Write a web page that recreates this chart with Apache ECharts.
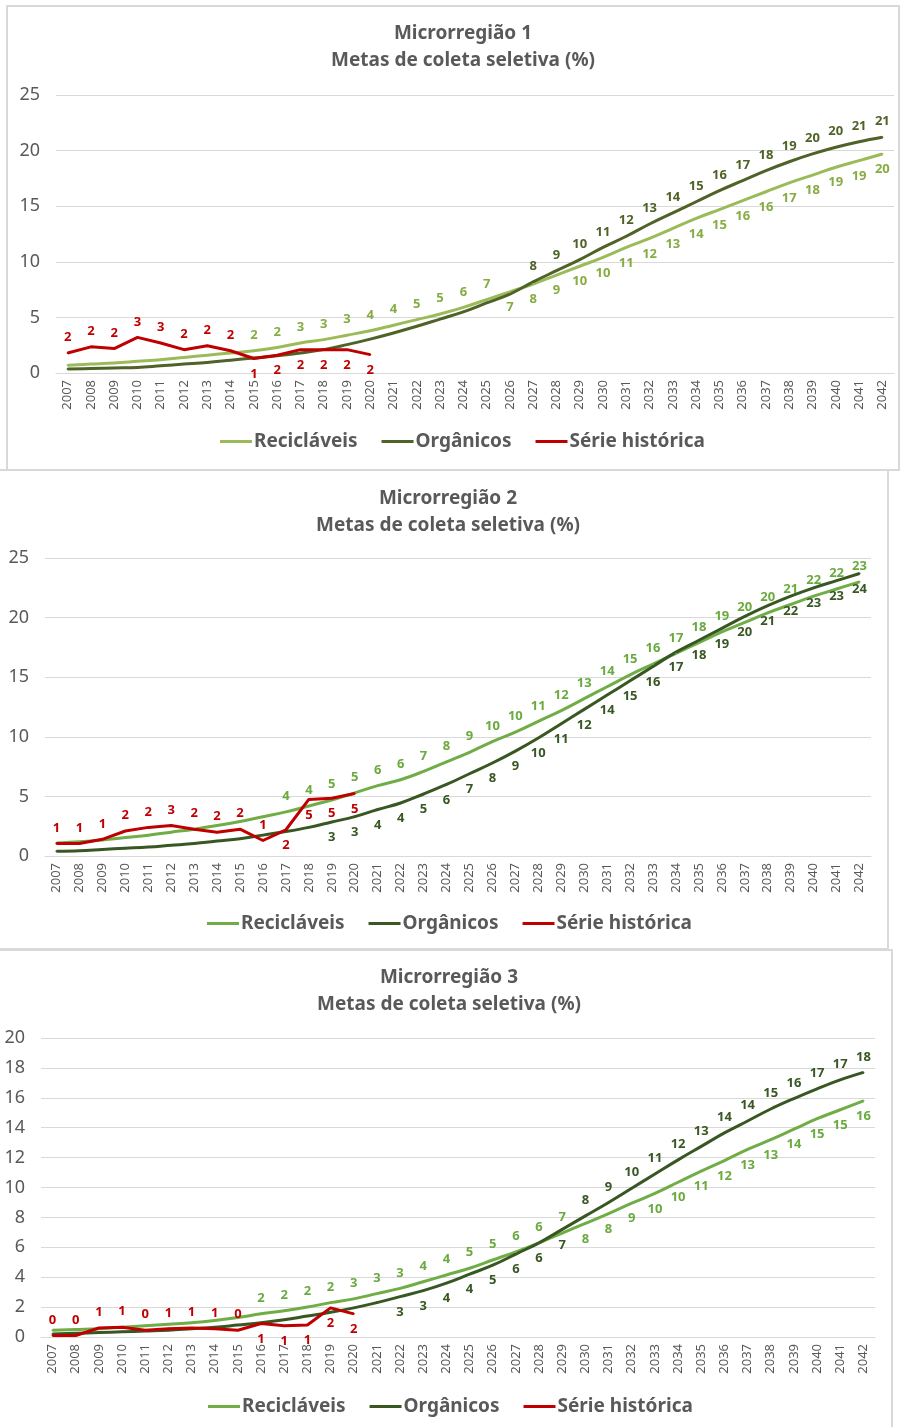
<!DOCTYPE html>
<html>
<head>
<meta charset="utf-8">
<script src="https://cdn.jsdelivr.net/npm/echarts@6/dist/echarts.min.js"></script>
<style>
  body { margin: 0; background: #fff; width: 901px; height: 1427px; position: relative; overflow: hidden; }
  .panel { position: absolute; border: 2px solid #d9d9d9; box-sizing: border-box; background: #fff; }
  .chart { width: 100%; height: 100%; }
</style>
</head>
<body>
<div class="panel" style="left:6px;top:5px;width:894px;height:466px"><div class="chart" id="c1"></div></div>
<div class="panel" style="left:-2px;top:469px;width:891px;height:481px"><div class="chart" id="c2"></div></div>
<div class="panel" style="left:-2px;top:949px;width:895px;height:482px"><div class="chart" id="c3"></div></div>
<script>
  // anos (eixo x)
  var years = ['2007', '2008', '2009', '2010', '2011', '2012', '2013', '2014', '2015', '2016', '2017', '2018',
    '2019', '2020', '2021', '2022', '2023', '2024', '2025', '2026', '2027', '2028', '2029', '2030',
    '2031', '2032', '2033', '2034', '2035', '2036', '2037', '2038', '2039', '2040', '2041', '2042'];

  // Microrregião 1
  var recic1 = [0.7, 0.8, 0.9, 1.05, 1.2, 1.4, 1.6, 1.8, 2.0, 2.3, 2.7, 3.0, 3.4, 3.8, 4.3, 4.8, 5.3, 5.9,
    6.6, 7.3, 8.0, 8.8, 9.6, 10.4, 11.3, 12.1, 13.0, 13.9, 14.7, 15.5, 16.3, 17.1, 17.8, 18.5, 19.1, 19.7];
  var organ1 = [0.35, 0.4, 0.45, 0.5, 0.65, 0.8, 0.95, 1.15, 1.35, 1.55, 1.8, 2.1, 2.55, 3.05, 3.6, 4.2, 4.85, 5.5,
    6.3, 7.1, 8.2, 9.2, 10.2, 11.3, 12.3, 13.4, 14.4, 15.4, 16.4, 17.3, 18.2, 19.0, 19.7, 20.3, 20.8, 21.2];
  var hist1 = [1.8, 2.35, 2.2, 3.2, 2.7, 2.1, 2.45, 2.0, 1.3, 1.6, 2.1, 2.1, 2.1, 1.65];

  // Microrregião 2
  var recic2 = [1.1, 1.2, 1.35, 1.55, 1.75, 2.0, 2.25, 2.55, 2.9, 3.3, 3.7, 4.2, 4.7, 5.3, 5.9, 6.4, 7.1, 7.9,
    8.7, 9.6, 10.4, 11.3, 12.2, 13.2, 14.2, 15.2, 16.1, 17.0, 17.9, 18.8, 19.6, 20.4, 21.1, 21.8, 22.4, 23.0];
  var organ2 = [0.4, 0.45, 0.55, 0.65, 0.75, 0.9, 1.05, 1.25, 1.45, 1.75, 2.05, 2.4, 2.85, 3.3, 3.9, 4.45, 5.2, 6.0,
    6.9, 7.8, 8.8, 9.9, 11.1, 12.3, 13.5, 14.7, 15.9, 17.1, 18.1, 19.1, 20.1, 21.0, 21.8, 22.5, 23.1, 23.7];
  var hist2 = [1.05, 1.05, 1.4, 2.1, 2.4, 2.55, 2.25, 2.0, 2.25, 1.3, 2.2, 4.75, 4.85, 5.25];

  // Microrregião 3
  var recic3 = [0.45, 0.5, 0.55, 0.65, 0.75, 0.85, 0.95, 1.1, 1.3, 1.55, 1.75, 2.0, 2.3, 2.55, 2.9, 3.25, 3.7, 4.15,
    4.6, 5.15, 5.7, 6.3, 6.95, 7.6, 8.25, 8.95, 9.6, 10.35, 11.1, 11.8, 12.55, 13.2, 13.9, 14.6, 15.2, 15.8];
  var organ3 = [0.2, 0.25, 0.3, 0.35, 0.4, 0.45, 0.55, 0.65, 0.8, 0.95, 1.15, 1.4, 1.65, 1.95, 2.3, 2.7, 3.1, 3.6,
    4.2, 4.8, 5.55, 6.3, 7.2, 8.1, 9.0, 9.95, 10.9, 11.85, 12.75, 13.65, 14.45, 15.25, 15.95, 16.6, 17.2, 17.7];
  var hist3 = [0.1, 0.1, 0.6, 0.65, 0.45, 0.55, 0.6, 0.55, 0.45, 0.9, 0.75, 0.8, 1.95, 1.55];

  var gray = '#595959';
  var font = 'Noto Sans';

  // rótulos: a partir de que ano aparecem, e onde ficam (antes / depois do ano "flip")
  var buildData = function (values, lab) {
    return values.map(function (v, i) {
      var y = +years[i];
      return {
        value: v,
        label: {
          show: y >= lab.from,
          position: (lab.flip && y >= lab.flip) ? lab.after : lab.before
        }
      };
    });
  };

  var lineSeries = function (name, values, color, labelColor, smooth, lab) {
    return {
      name: name,
      type: 'line',
      data: buildData(values, lab),
      smooth: smooth,
      symbol: 'circle',
      symbolSize: 2,
      showSymbol: true,
      lineStyle: { color: color, width: 3 },
      itemStyle: { color: color },
      label: {
        distance: 8,
        color: labelColor,
        fontFamily: font,
        fontSize: 13,
        fontWeight: 'bold',
        formatter: function (p) { return Math.round(p.value); }
      },
      labelLayout: { hideOverlap: false },
      z: smooth ? 2 : 3
    };
  };

  var makeChart = function (domId, cfg) {
    var chart = echarts.init(document.getElementById(domId));
    chart.setOption({
      animation: false,
      backgroundColor: '#fff',
      title: {
        text: cfg.title + '\nMetas de coleta seletiva (%)',
        left: cfg.titleX,
        top: cfg.titleTop,
        textAlign: 'center',
        textStyle: { fontFamily: font, fontSize: 19, fontWeight: 'bold', color: gray, lineHeight: 27 }
      },
      legend: {
        left: cfg.legendLeft,
        top: cfg.legendTop,
        icon: 'rect',
        itemWidth: 32,
        itemHeight: 3,
        itemGap: 24,
        textStyle: { fontFamily: font, fontSize: 19, fontWeight: 'bold', color: gray, padding: [0, 0, 0, -3] },
        data: ['Recicláveis', 'Orgânicos', 'Série histórica']
      },
      grid: cfg.grid,
      xAxis: {
        type: 'category',
        data: years,
        boundaryGap: true,
        axisTick: { show: false },
        axisLine: { lineStyle: { color: '#d9d9d9', width: 1 } },
        axisLabel: { rotate: 90, interval: 0, margin: 7, fontFamily: font, fontSize: 13, color: gray }
      },
      yAxis: {
        type: 'value',
        min: 0,
        max: cfg.yMax,
        interval: cfg.yStep,
        axisLabel: { margin: 16, fontFamily: font, fontSize: 18, color: gray },
        splitLine: { lineStyle: { color: '#d9d9d9', width: 1 } }
      },
      series: [
        lineSeries('Recicláveis', cfg.recic, cfg.light, cfg.lightLabel, 0.4, cfg.labR),
        lineSeries('Orgânicos', cfg.organ, cfg.dark, cfg.dark, 0.4, cfg.labO),
        lineSeries('Série histórica', cfg.hist, '#c00000', '#c00000', false, cfg.labH)
      ]
    });
    return chart;
  };

  makeChart('c1', {
    title: 'Microrregião 1', titleX: 450, titleTop: 8, legendLeft: 207, legendTop: 420,
    grid: { left: 48, top: 88, width: 838, height: 278 },
    yMax: 25, yStep: 5,
    light: '#9bbb59', lightLabel: '#86ac44', dark: '#4f6228',
    recic: recic1, organ: organ1, hist: hist1,
    labR: { from: 2015, flip: 2026, before: 'top', after: 'bottom' },
    labO: { from: 2027, before: 'top' },
    labH: { from: 2007, flip: 2015, before: 'top', after: 'bottom' }
  });

  makeChart('c2', {
    title: 'Microrregião 2', titleX: 443, titleTop: 9, legendLeft: 202, legendTop: 438,
    grid: { left: 45, top: 87, width: 826, height: 298 },
    yMax: 25, yStep: 5,
    light: '#70ad47', lightLabel: '#6aaa3f', dark: '#385723',
    recic: recic2, organ: organ2, hist: hist2,
    labR: { from: 2017, before: 'top' },
    labO: { from: 2019, before: 'bottom' },
    labH: { from: 2007, flip: 2017, before: 'top', after: 'bottom' }
  });

  makeChart('c3', {
    title: 'Microrregião 3', titleX: 444, titleTop: 8, legendLeft: 203, legendTop: 441,
    grid: { left: 41, top: 87, width: 834, height: 299 },
    yMax: 20, yStep: 2,
    light: '#70ad47', lightLabel: '#6aaa3f', dark: '#385723',
    recic: recic3, organ: organ3, hist: hist3,
    labR: { from: 2016, flip: 2030, before: 'top', after: 'bottom' },
    labO: { from: 2022, flip: 2030, before: 'bottom', after: 'top' },
    labH: { from: 2007, flip: 2016, before: 'top', after: 'bottom' }
  });
</script>
</body>
</html>
